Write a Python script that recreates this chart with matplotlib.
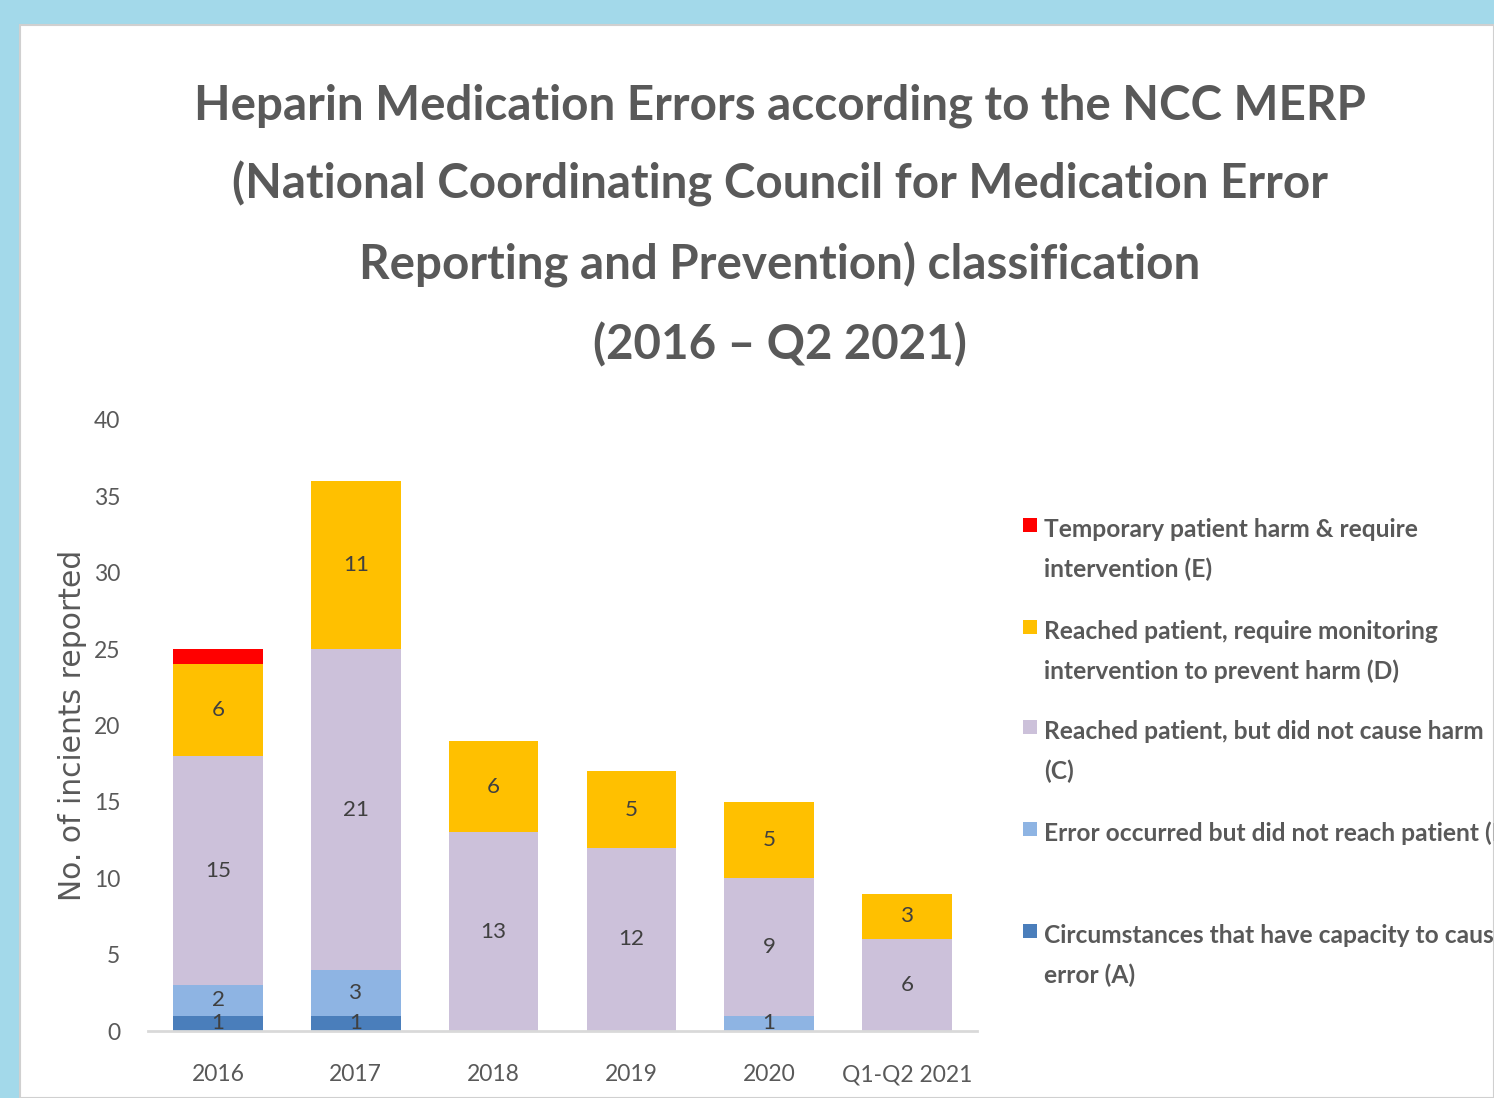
import matplotlib
matplotlib.use("Agg")
import matplotlib.pyplot as plt
from matplotlib.patches import Rectangle
import numpy as np

categories = ["2016", "2017", "2018", "2019", "2020", "Q1-Q2 2021"]
cat_A = [1, 1, 0, 0, 0, 0]
cat_B = [2, 3, 0, 0, 1, 0]
cat_C = [15, 21, 13, 12, 9, 6]
cat_D = [6, 11, 6, 5, 5, 3]
cat_E = [1, 0, 0, 0, 0, 0]

series_names = [
    "Circumstances that have capacity to cause\nerror (A)",
    "Error occurred but did not reach patient (B)",
    "Reached patient, but did not cause harm\n(C)",
    "Reached patient, require monitoring\nintervention to prevent harm (D)",
    "Temporary patient harm & require\nintervention (E)",
]
series_values = [cat_A, cat_B, cat_C, cat_D, cat_E]
series_colors = ["#4A7EBB", "#8EB4E3", "#CCC1DA", "#FFC000", "#FF0000"]
show_labels = [True, True, True, True, False]

y_ticks = [0, 5, 10, 15, 20, 25, 30, 35, 40]

W, H = 1494, 1098
fig = plt.figure(figsize=(W / 100, H / 100), dpi=100)
fig.patch.set_facecolor("#A3D9EA")

def fx(x):
    return x / W

def fy(y):
    return 1 - y / H

# white slide panel
fig.patches.append(Rectangle((fx(20), 0), 1 - fx(20), fy(25), transform=fig.transFigure,
                             facecolor="white", edgecolor="#D0D0D0", linewidth=1.5, zorder=-10))

renderer = fig.canvas.get_renderer()

def fit_size(text, family, weight, target_px, base=30):
    t = fig.text(0, 0, text, fontsize=base, family=family, fontweight=weight)
    w = t.get_window_extent(renderer=renderer).width
    t.remove()
    return base * target_px / w

GRAY = "#595959"
TFONT = ["Lato", "DejaVu Sans"]

# Title
title_lines = [
    "Heparin Medication Errors according to the NCC MERP",
    "(National Coordinating Council for Medication Error",
    "Reporting and Prevention) classification",
    "(2016 \u2013 Q2 2021)",
]
title_size = fit_size(title_lines[0], TFONT, "bold", 1170)
for i, line in enumerate(title_lines):
    fig.text(fx(780), fy(119 + 80 * i), line, ha="center", va="baseline",
             fontsize=title_size, family=TFONT, fontweight="bold", color=GRAY)

# Axes
ax = fig.add_axes([fx(148), fy(1031), fx(977) - fx(148), fy(420) - fy(1031)], zorder=5)
ax.set_facecolor("none")
x = np.arange(len(categories))
bottom = np.zeros(len(categories))
tick_size = fit_size("2016", TFONT, "normal", 53)
data_size = fit_size("15", TFONT, "normal", 26)
for vals, col, show in zip(series_values, series_colors, show_labels):
    v = np.array(vals, dtype=float)
    ax.bar(x, v, bottom=bottom, width=0.65, color=col, zorder=2)
    if show:
        for xi, (b, val) in enumerate(zip(bottom, v)):
            if val > 0:
                ax.text(xi, b + val / 2, f"{int(val)}", ha="center", va="center",
                        fontsize=data_size, family=TFONT, color="#404040", zorder=3)
    bottom += v

ax.set_xlim(-0.508, 5.508)
ax.set_ylim(0, 40)
ax.set_yticks(y_ticks)
ax.set_xticks(x)
ax.set_xticklabels(categories)
for s in ["top", "right", "left"]:
    ax.spines[s].set_visible(False)
ax.spines["bottom"].set_color("#D9D9D9")
ax.spines["bottom"].set_linewidth(2)
ax.tick_params(axis="both", length=0, labelsize=tick_size, labelcolor=GRAY)
ax.tick_params(axis="x", pad=24)
ax.tick_params(axis="y", pad=20)
for lab in ax.get_xticklabels() + ax.get_yticklabels():
    lab.set_family(TFONT)

ylab = "No. of incients reported"
ylab_size = fit_size(ylab, ["DejaVu Sans"], "normal", 350)
fig.text(fx(73), fy(725), ylab, rotation=90, ha="center", va="center",
         fontsize=ylab_size, family=["DejaVu Sans"], color=GRAY)

# Legend (manual, top to bottom E, D, C, B, A)
leg_size = fit_size("Temporary patient harm & require", TFONT, "bold", 374)
baselines = [537, 639, 739, 841, 943]
for (name, col), base in zip(list(zip(series_names, series_colors))[::-1], baselines):
    fig.patches.append(Rectangle((fx(1023), fy(base - 5)), 14 / W, 14 / H,
                                 transform=fig.transFigure, facecolor=col, edgecolor="none"))
    for j, line in enumerate(name.split("\n")):
        fig.text(fx(1044), fy(base + 40 * j), line, ha="left", va="baseline",
                 fontsize=leg_size, family=TFONT, fontweight="bold", color=GRAY)

fig.savefig("out.png", dpi=100)
